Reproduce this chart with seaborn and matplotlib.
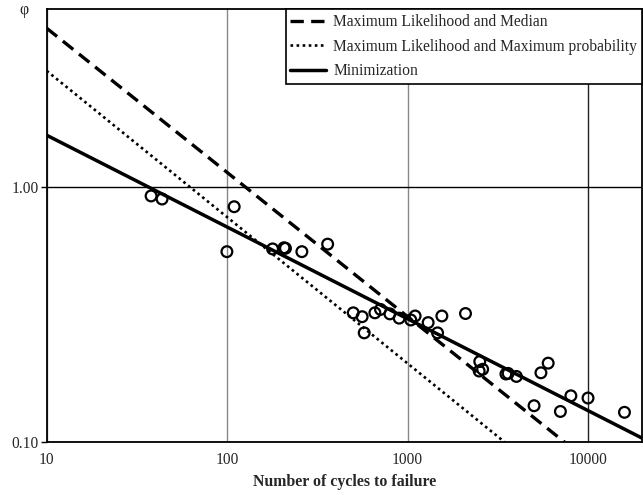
import matplotlib
matplotlib.use("Agg")
import matplotlib.pyplot as plt
import seaborn as sns
import pandas as pd

# Observed points (cycles to failure, phi)
cycles = [37.9, 43.6, 109.4, 99.7, 178.6, 206.6, 210.5, 259.5, 360.6,
          500, 560, 575, 659, 708, 798, 898, 1042, 1101, 1300, 1466, 1549,
          2094, 2512, 2493, 2606, 3508, 3608, 4009, 5023, 5483, 6014, 7030,
          8035, 10000, 15920]
phi = [0.920, 0.895, 0.835, 0.557, 0.571, 0.577, 0.574, 0.557, 0.596,
       0.321, 0.310, 0.268, 0.321, 0.331, 0.318, 0.306, 0.301, 0.312, 0.294,
       0.268, 0.312, 0.319, 0.207, 0.190, 0.193, 0.185, 0.186, 0.181, 0.139,
       0.187, 0.204, 0.132, 0.152, 0.149, 0.131]

# Fitted lines (end points)
median_x = [10, 7430]
median_y = [4.17, 0.10]
maxprob_x = [10, 3460]
maxprob_y = [2.84, 0.10]
minim_x = [10, 19840]
minim_y = [1.59, 0.104]

labels = ["Maximum Likelihood and Median",
          "Maximum Likelihood and Maximum probability",
          "Minimization"]
x_ticks = [10, 100, 1000, 10000]
x_ticklabels = ["10", "100", "1000", "10000"]
y_ticks = [0.1, 1.0]
y_ticklabels = ["0.10", "1.00"]

sns.set_style("white")
plt.rcParams["font.family"] = ["Liberation Serif", "DejaVu Serif"]

fig = plt.figure(figsize=(6.43, 4.95), dpi=100)
ax = fig.add_axes([0.0726, 0.1065, 0.9254, 0.8745])

pts = pd.DataFrame({"x": cycles, "y": phi})
sns.scatterplot(data=pts, x="x", y="y", ax=ax, marker="o", s=60,
                facecolor="none", edgecolor="black", linewidth=1.6, zorder=3)

sns.lineplot(x=median_x, y=median_y, ax=ax, color="black", lw=2.4,
             linestyle=(0, (4, 2.2)), label=labels[0], zorder=4)
sns.lineplot(x=maxprob_x, y=maxprob_y, ax=ax, color="black", lw=1.9,
             linestyle=(0, (1, 1.3)), label=labels[1], zorder=4)
sns.lineplot(x=minim_x, y=minim_y, ax=ax, color="black", lw=2.5,
             linestyle="-", label=labels[2], zorder=4)

ax.set_xscale("log")
ax.set_yscale("log")
ax.set_xlim(10, 19840)
ax.set_ylim(0.1, 4.94)
ax.set_xticks(x_ticks)
ax.set_xticklabels(x_ticklabels)
ax.set_yticks(y_ticks)
ax.set_yticklabels(y_ticklabels)
ax.minorticks_off()
ax.tick_params(axis="x", length=0, labelsize=11.2, pad=7)
ax.tick_params(axis="y", length=4, width=1, color="black", labelsize=11.2,
               pad=2, left=True)

ax.grid(True, which="major", axis="both")
for gl, c in zip(ax.get_xgridlines(), ["#888888", "#888888", "#888888", "#222222"]):
    gl.set_color(c)
    gl.set_linewidth(1.0)
for gl in ax.get_ygridlines():
    gl.set_color("black")
    gl.set_linewidth(1.0)

for s in ax.spines.values():
    s.set_color("black")
    s.set_linewidth(1.3)

ax.set_xlabel("Number of cycles to failure", fontsize=11.4, fontweight="bold")
ax.xaxis.label.set_va("center")
ax.xaxis.set_label_coords(0.5, -0.0917)
ax.set_ylabel("")
fig.text(0.038, 0.995, "φ", fontsize=11.4, ha="center", va="top")

leg = ax.legend(loc="upper right", borderaxespad=0, frameon=True,
                fancybox=False, framealpha=1, edgecolor="black",
                fontsize=11.2, handlelength=2.3, handletextpad=0.45,
                labelspacing=0.55, borderpad=0.3)
leg.get_frame().set_linewidth(1.2)

fig.savefig("out.png", dpi=100)
